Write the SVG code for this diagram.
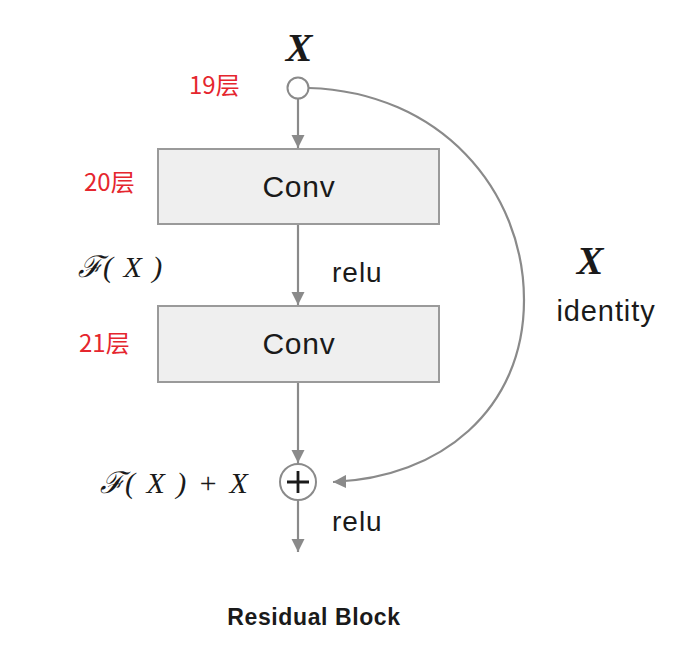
<svg xmlns="http://www.w3.org/2000/svg" width="695" height="650" viewBox="0 0 695 650">
<style>
.ln{stroke:#8a8a8a;stroke-width:2.2;fill:none}
.box{fill:#efefef;stroke:#9a9a9a;stroke-width:2}
.lbl{font-family:"Liberation Sans",Arial,sans-serif;fill:#1a1a1a}
.red{font-family:"Noto Sans CJK SC","Liberation Sans",sans-serif;fill:#e5262e;font-size:24px}
.math{font-family:"Liberation Serif","DejaVu Serif",serif;font-style:italic;fill:#1a1a1a}
</style>
<defs>
<marker id="a2" viewBox="0 0 10 10" refX="10" refY="5" markerWidth="6" markerHeight="6" orient="auto">
<path d="M0,0 L10,5 L0,10 z" fill="#8a8a8a"/>
</marker>
</defs>
<g id="connectors">
<line class="ln" x1="298" y1="99" x2="298" y2="148" marker-end="url(#a2)"/>
<line class="ln" x1="298" y1="225" x2="298" y2="305" marker-end="url(#a2)"/>
<line class="ln" x1="298" y1="383" x2="298" y2="463" marker-end="url(#a2)"/>
<line class="ln" x1="298" y1="501" x2="298" y2="552" marker-end="url(#a2)"/>
<path class="ln" d="M309,88 C440,92 524,190 524,300 C524,410 440,478 333,482" marker-end="url(#a2)"/>
</g>
<g id="input">
<circle cx="298" cy="88" r="10.5" fill="#fff" stroke="#8a8a8a" stroke-width="2"/>
<text class="math" x="299" y="61" font-size="40" font-weight="bold" text-anchor="middle">X</text>
<text class="red" x="189" y="94">19层</text>
</g>
<g id="conv1">
<rect class="box" x="158" y="149" width="281" height="75"/>
<text class="lbl" x="299" y="197" font-size="30" letter-spacing="0.8" text-anchor="middle">Conv</text>
<text class="red" x="84" y="191">20层</text>
</g>
<g id="conv2">
<rect class="box" x="158" y="306" width="281" height="76"/>
<text class="lbl" x="299" y="354" font-size="30" letter-spacing="0.8" text-anchor="middle">Conv</text>
<text class="red" x="79" y="352">21层</text>
</g>
<g id="add">
<circle cx="298" cy="482" r="18" fill="#fff" stroke="#8a8a8a" stroke-width="2"/>
<path d="M287,482 H309 M298,471 V493" stroke="#1a1a1a" stroke-width="2.8"/>
</g>
<g id="labels">
<text class="math" x="78" y="277" font-size="30" word-spacing="3">ℱ( X )</text>
<text class="lbl" x="332" y="282" font-size="28" letter-spacing="1">relu</text>
<text class="math" x="100" y="493" font-size="30" word-spacing="4">ℱ( X ) + X</text>
<text class="lbl" x="332" y="531" font-size="28" letter-spacing="1">relu</text>
<text class="math" x="590" y="274" font-size="40" font-weight="bold" text-anchor="middle">X</text>
<text class="lbl" x="606" y="321" font-size="29" letter-spacing="0.9" text-anchor="middle">identity</text>
<text class="lbl" x="314" y="625" font-size="23" font-weight="bold" letter-spacing="0.6" text-anchor="middle">Residual Block</text>
</g>
</svg>
